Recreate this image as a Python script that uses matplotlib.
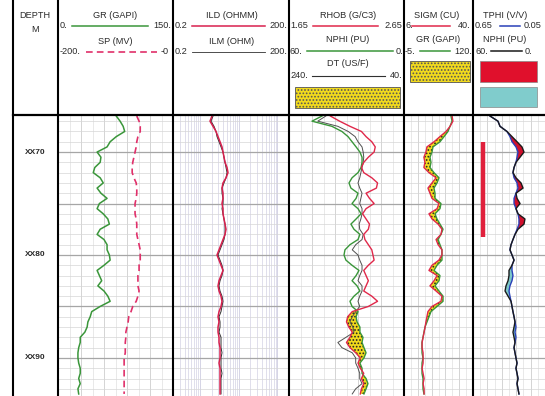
import numpy as np
import matplotlib.pyplot as plt
from matplotlib.patches import Rectangle

plt.rcParams['font.family'] = ['Liberation Sans', 'DejaVu Sans']
plt.rcParams['hatch.color'] = '#222222'
plt.rcParams['hatch.linewidth'] = 0.8

# log depth samples (m) and curves
DEPTH = [66.5, 67.0, 67.5, 68.0, 68.5, 69.0, 69.5, 70.0, 70.5, 71.0,
         71.5, 72.0, 72.5, 73.0, 73.5, 74.0, 74.5, 75.0, 75.5, 76.0,
         76.5, 77.0, 77.5, 78.0, 78.5, 79.0, 79.5, 80.0, 80.5, 81.0,
         81.5, 82.0, 82.5, 83.0, 83.5, 84.0, 84.5, 85.0, 85.5, 86.0,
         86.5, 87.0, 87.5, 88.0, 88.5, 89.0, 89.5, 90.0, 90.5, 91.0,
         91.5, 92.0, 92.5, 93.0, 93.5]
TOP, BASE = 66.4, 93.7

GR = [76, 81, 85, 87, 76, 68, 64, 51, 56, 55,
      48, 46, 55, 59, 51, 56, 64, 54, 51, 59,
      65, 67, 55, 51, 60, 64, 64, 67, 68, 60,
      51, 54, 57, 52, 60, 65, 68, 55, 44, 42,
      39, 38, 35, 29, 29, 27, 26, 26, 27, 29,
      29, 27, 29, 26, 27]
SP = [-63, -59, -57, -57, -61, -63, -64, -66, -68, -70,
      -71, -71, -68, -64, -63, -63, -64, -66, -66, -66,
      -64, -63, -63, -63, -61, -59, -57, -57, -57, -59,
      -59, -61, -61, -61, -59, -61, -64, -70, -73, -77,
      -78, -80, -82, -82, -83, -83, -83, -85, -85, -85,
      -85, -85, -85, -85, -85]
ILD = [2.04, 1.81, 2.17, 2.59, 2.92, 3.29, 3.70, 3.93, 4.17, 4.43,
       4.99, 5.29, 4.70, 3.93, 3.70, 3.93, 3.93, 3.70, 3.93, 3.93,
       4.17, 4.43, 4.70, 4.43, 3.93, 3.49, 3.10, 2.75, 3.10, 3.49,
       3.93, 3.49, 3.10, 2.92, 3.10, 3.49, 3.70, 3.49, 3.10, 2.92,
       3.10, 2.92, 2.92, 3.10, 3.10, 3.29, 3.29, 3.29, 3.10, 3.29,
       3.29, 3.29, 3.29, 3.29, 3.29]
ILM = [2.17, 1.92, 2.30, 2.59, 2.75, 3.10, 3.49, 3.93, 4.17, 4.43,
       4.70, 4.99, 4.70, 4.17, 3.70, 3.70, 3.93, 3.93, 3.70, 3.93,
       4.17, 4.43, 4.43, 4.43, 4.17, 3.70, 3.29, 2.92, 3.29, 3.70,
       3.93, 3.70, 3.29, 3.10, 3.29, 3.70, 3.93, 3.70, 3.49, 3.10,
       3.29, 3.29, 3.10, 3.49, 3.49, 3.49, 3.70, 3.49, 3.49, 3.49,
       3.70, 3.49, 3.49, 3.49, 3.49]
RHOB = [2.01, 2.09, 2.18, 2.28, 2.32, 2.37, 2.40, 2.39, 2.34, 2.30,
        2.28, 2.30, 2.37, 2.42, 2.41, 2.32, 2.35, 2.39, 2.32, 2.29,
        2.32, 2.35, 2.34, 2.30, 2.31, 2.34, 2.37, 2.38, 2.39, 2.34,
        2.30, 2.32, 2.34, 2.32, 2.30, 2.37, 2.42, 2.34, 2.20, 2.16,
        2.15, 2.17, 2.20, 2.18, 2.15, 2.18, 2.23, 2.27, 2.25, 2.27,
        2.30, 2.28, 2.30, 2.28, 2.27]
NPHI = [42.8, 48.0, 37.6, 32.4, 29.2, 27.1, 25.0, 23.0, 21.9, 21.9,
        22.4, 24.0, 27.1, 28.7, 27.7, 24.0, 25.0, 27.1, 24.0, 22.4,
        25.0, 27.7, 26.1, 23.0, 24.0, 28.2, 30.8, 31.3, 30.3, 27.1,
        23.5, 25.0, 27.1, 24.5, 23.0, 26.1, 28.2, 27.1, 24.0, 25.0,
        24.5, 23.0, 23.0, 21.4, 21.9, 20.9, 19.8, 20.9, 23.0, 21.9,
        21.9, 19.8, 18.8, 19.8, 20.9]
DT = [176, 190, 155, 137, 125, 120, 113, 111, 110, 111,
      113, 115, 117, 120, 117, 113, 115, 117, 113, 113,
      115, 118, 117, 111, 113, 124, 130, 120, 117, 113,
      113, 117, 120, 113, 113, 117, 120, 117, 124, 130,
      134, 129, 127, 141, 155, 148, 130, 124, 124, 120,
      117, 117, 113, 124, 130]
SIGM = [29.7, 30.1, 28.7, 26.7, 23.7, 20.8, 17.3, 16.8, 15.8, 16.3,
        15.8, 18.3, 21.8, 19.8, 17.8, 18.8, 19.8, 23.2, 22.3, 18.3,
        19.8, 22.8, 24.7, 24.2, 21.8, 22.8, 24.7, 24.7, 23.2, 19.8,
        18.3, 22.3, 20.8, 18.8, 21.8, 24.7, 24.2, 19.8, 17.8, 17.3,
        16.8, 16.4, 15.9, 15.4, 14.9, 14.9, 15.4, 15.4, 15.4, 14.9,
        15.4, 15.9, 15.4, 15.9, 15.9]
GR2 = [80.1, 82.0, 78.3, 74.7, 67.5, 60.2, 47.5, 45.7, 42.1, 43.9,
       42.1, 49.3, 58.4, 54.8, 49.3, 51.2, 51.2, 62.0, 60.2, 51.2,
       54.8, 60.2, 65.7, 62.0, 56.6, 60.2, 63.8, 63.8, 63.8, 54.8,
       49.3, 60.2, 58.4, 51.2, 58.4, 65.7, 65.7, 54.8, 43.9, 40.3,
       36.7, 33.0, 31.2, 29.4, 27.6, 27.6, 27.6, 29.4, 27.6, 27.6,
       27.6, 29.4, 29.4, 29.4, 31.2]
TPHI = [0.508, 0.442, 0.425, 0.367, 0.342, 0.325, 0.292, 0.275, 0.283, 0.292,
        0.308, 0.317, 0.308, 0.283, 0.275, 0.292, 0.308, 0.308, 0.292, 0.275,
        0.267, 0.267, 0.283, 0.300, 0.317, 0.333, 0.342, 0.325, 0.308, 0.325,
        0.325, 0.317, 0.325, 0.342, 0.350, 0.342, 0.333, 0.325, 0.317, 0.308,
        0.300, 0.292, 0.300, 0.292, 0.300, 0.308, 0.300, 0.292, 0.283, 0.292,
        0.283, 0.275, 0.283, 0.275, 0.267]
NPHI2 = [45.8, 39.2, 37.5, 31.7, 27.5, 23.3, 19.2, 17.5, 20.8, 24.2,
         25.8, 26.7, 24.2, 20.0, 18.3, 24.2, 23.3, 20.8, 24.2, 22.5,
         16.7, 17.5, 22.5, 25.0, 26.7, 28.3, 29.2, 27.5, 25.8, 27.5,
         30.0, 30.0, 30.8, 32.5, 33.3, 30.8, 28.3, 27.5, 26.7, 25.8,
         25.0, 25.8, 26.7, 25.8, 25.0, 25.8, 25.0, 24.2, 23.3, 24.2,
         23.3, 22.5, 23.3, 22.5, 21.7]
PERF = [69.0, 78.3]      # depth interval of the red marker
PERF_TPHI = 0.567
DEPTH_MARKS = [70, 80, 90]
DEPTH_LABELS = ['XX70', 'XX80', 'XX90']

W, H = 545, 396
HDR = 115
EDGES = [58, 173, 289, 404, 473, 545]
TXT = '#2a2a2a'
FS = 6.6
RED = '#e0284a'
GREEN = '#3a963a'
YELLOW = '#f2da1c'

fig = plt.figure(figsize=(W / 100, H / 100), dpi=100)
fig.patch.set_facecolor('white')
depth = np.array(DEPTH)


def px_axes(x0, x1, y0, y1):
    return fig.add_axes([x0 / W, 1 - y1 / H, (x1 - x0) / W, (y1 - y0) / H])


def norm(v, lo, hi):
    return (np.asarray(v, dtype=float) - lo) / (hi - lo)


def track(i, log=False):
    ax = px_axes(EDGES[i], EDGES[i + 1], HDR, H)
    ax.set_ylim(BASE, TOP)
    if log:
        ax.set_xscale('log')
        ax.set_xlim(0.2, 200)
        for e in [-1, 0, 1, 2]:
            for m in range(1, 10):
                v = m * 10.0 ** e
                if 0.2 < v < 200:
                    ax.axvline(v, color='#cfcde2', lw=0.6 if m == 1 else 0.45, zorder=0)
    else:
        ax.set_xlim(0, 1)
        for k in range(1, 10):
            ax.axvline(k / 10, color='#c4c4c4' if k % 2 == 0 else '#e0e0e0', lw=0.5, zorder=0)
    for d in range(67, 94):
        major = d % 5 == 0
        ax.axhline(d, color='#a6a6a6' if major else '#d6d6d6', lw=0.9 if major else 0.5, zorder=0)
    ax.tick_params(which='both', bottom=False, left=False, labelbottom=False, labelleft=False)
    for s in ax.spines.values():
        s.set_visible(False)
    return ax


# depth column
axd = px_axes(13, 58, HDR, H)
axd.set_ylim(BASE, TOP)
axd.set_xlim(0, 1)
axd.axis('off')
for d, lab in zip(DEPTH_MARKS, DEPTH_LABELS):
    axd.text(0.5, d, lab, ha='center', va='center', fontsize=6, fontweight='bold', color=TXT)

# track 1: GR / SP
ax1 = track(0)
ax1.plot(norm(GR, 0, 150), depth, color=GREEN, lw=1.1)
ax1.plot(norm(SP, -200, 0), depth, color='#e0306a', lw=1.2, ls=(0, (4, 2.5)))

# track 2: resistivity
ax2 = track(1, log=True)
ax2.plot(ILM, depth, color='#303030', lw=0.7)
ax2.plot(ILD, depth, color='#d8204e', lw=1.1)

# track 3: RHOB / NPHI / DT
ax3 = track(2)
r3 = norm(RHOB, 1.65, 2.65)
n3 = norm(NPHI, 60, 0)
ax3.fill_betweenx(depth, r3, n3, where=r3 < n3, interpolate=True,
                  facecolor=YELLOW, edgecolor='#222222', hatch='.....', lw=0)
ax3.plot(norm(DT, 240, 40), depth, color='#505050', lw=0.7)
ax3.plot(n3, depth, color=GREEN, lw=1.0)
ax3.plot(r3, depth, color=RED, lw=1.0)

# track 4: SIGM / GR
ax4 = track(3)
s4 = norm(SIGM, 6, 40)
g4 = norm(GR2, -5, 120)
ax4.fill_betweenx(depth, s4, g4, where=s4 < g4, interpolate=True,
                  facecolor=YELLOW, edgecolor='#222222', hatch='.....', lw=0)
ax4.plot(g4, depth, color=GREEN, lw=1.0)
ax4.plot(s4, depth, color=RED, lw=1.0)

# track 5: TPHI / NPHI
ax5 = track(4)
t5 = norm(TPHI, 0.65, 0.05)
n5 = norm(NPHI2, 60, 0)
ax5.fill_betweenx(depth, t5, n5, where=n5 > t5, interpolate=True, color='#d0102c', lw=0)
ax5.fill_betweenx(depth, t5, n5, where=t5 > n5, interpolate=True, color='#7cc8c8', lw=0)
ax5.plot(t5, depth, color='#2a40b8', lw=1.0)
ax5.plot(n5, depth, color='#1a1a1a', lw=1.0)
px = norm(PERF_TPHI, 0.65, 0.05)
ax5.plot([px, px], PERF, color='#e0203c', lw=3.2, solid_capstyle='butt')

# header and frame
ov = fig.add_axes([0, 0, 1, 1], zorder=10)
ov.set_xlim(0, W)
ov.set_ylim(H, 0)
ov.axis('off')
ov.patch.set_alpha(0)

for x in [13] + EDGES[:-1]:
    ov.plot([x, x], [0, H], color='k', lw=1.5)
ov.plot([13, W], [HDR, HDR], color='k', lw=1.6)

ov.text(35, 16, 'DEPTH', ha='center', va='center', fontsize=FS, color=TXT)
ov.text(35, 29, 'M', ha='center', va='center', fontsize=FS, color=TXT)


def head(title, xc, ty, ly, lx0, lx1, lo, x_lo, hi, x_hi, color, lw=1.1, ls='-'):
    ov.text(xc, ty, title, ha='center', va='center', fontsize=FS, color=TXT)
    ov.plot([lx0, lx1], [ly, ly], color=color, lw=lw, ls=ls)
    ov.text(x_lo, ly, lo, ha='left', va='center', fontsize=FS, color=TXT)
    ov.text(x_hi, ly, hi, ha='right', va='center', fontsize=FS, color=TXT)


head('GR (GAPI)', 115, 16, 26, 72, 148, '0.', 60, '150.', 171, GREEN)
head('SP (MV)', 115, 42, 52, 86, 157, '-200.', 60, '-0', 169, '#e0306a', lw=1.2, ls=(0, (4, 2.5)))
head('ILD (OHMM)', 232, 16, 26, 192, 265, '0.2', 175, '200.', 287, '#d8204e')
head('ILM (OHM)', 232, 42, 52, 192, 265, '0.2', 175, '200.', 287, '#303030', lw=0.6)
head('RHOB (G/C3)', 348, 15, 26, 313, 378, '1.65', 290, '2.65', 402, RED)
head('NPHI (PU)', 348, 40, 51, 307, 393, '60.', 290, '0.', 403, GREEN)
head('DT (US/F)', 348, 63, 76, 312, 385, '240.', 290, '40.', 402, '#303030', lw=0.8)
head('SIGM (CU)', 437, 15, 26, 412, 450, '6.', 405, '40.', 470, RED)
head('GR (GAPI)', 438, 40, 51, 420, 450, '-5.', 405, '120.', 472, GREEN)
head('TPHI (V/V)', 505, 15, 26, 500, 520, '0.65', 475, '0.05', 542, '#2a40b8')
head('NPHI (PU)', 505, 40, 51, 491, 522, '60.', 475, '0.', 532, '#1a1a1a')

ov.add_patch(Rectangle((295, 87), 105, 21, facecolor=YELLOW, edgecolor='#555555',
                       hatch='.....', lw=0.6))
ov.add_patch(Rectangle((410, 61), 60, 21, facecolor=YELLOW, edgecolor='#555555',
                       hatch='.....', lw=0.6))
ov.add_patch(Rectangle((480, 61), 57, 21, facecolor='#e0102c', edgecolor='#888888', lw=0.5))
ov.add_patch(Rectangle((480, 87), 57, 20, facecolor='#80cccc', edgecolor='#888888', lw=0.5))

fig.savefig('out.png', dpi=100, facecolor='white')
